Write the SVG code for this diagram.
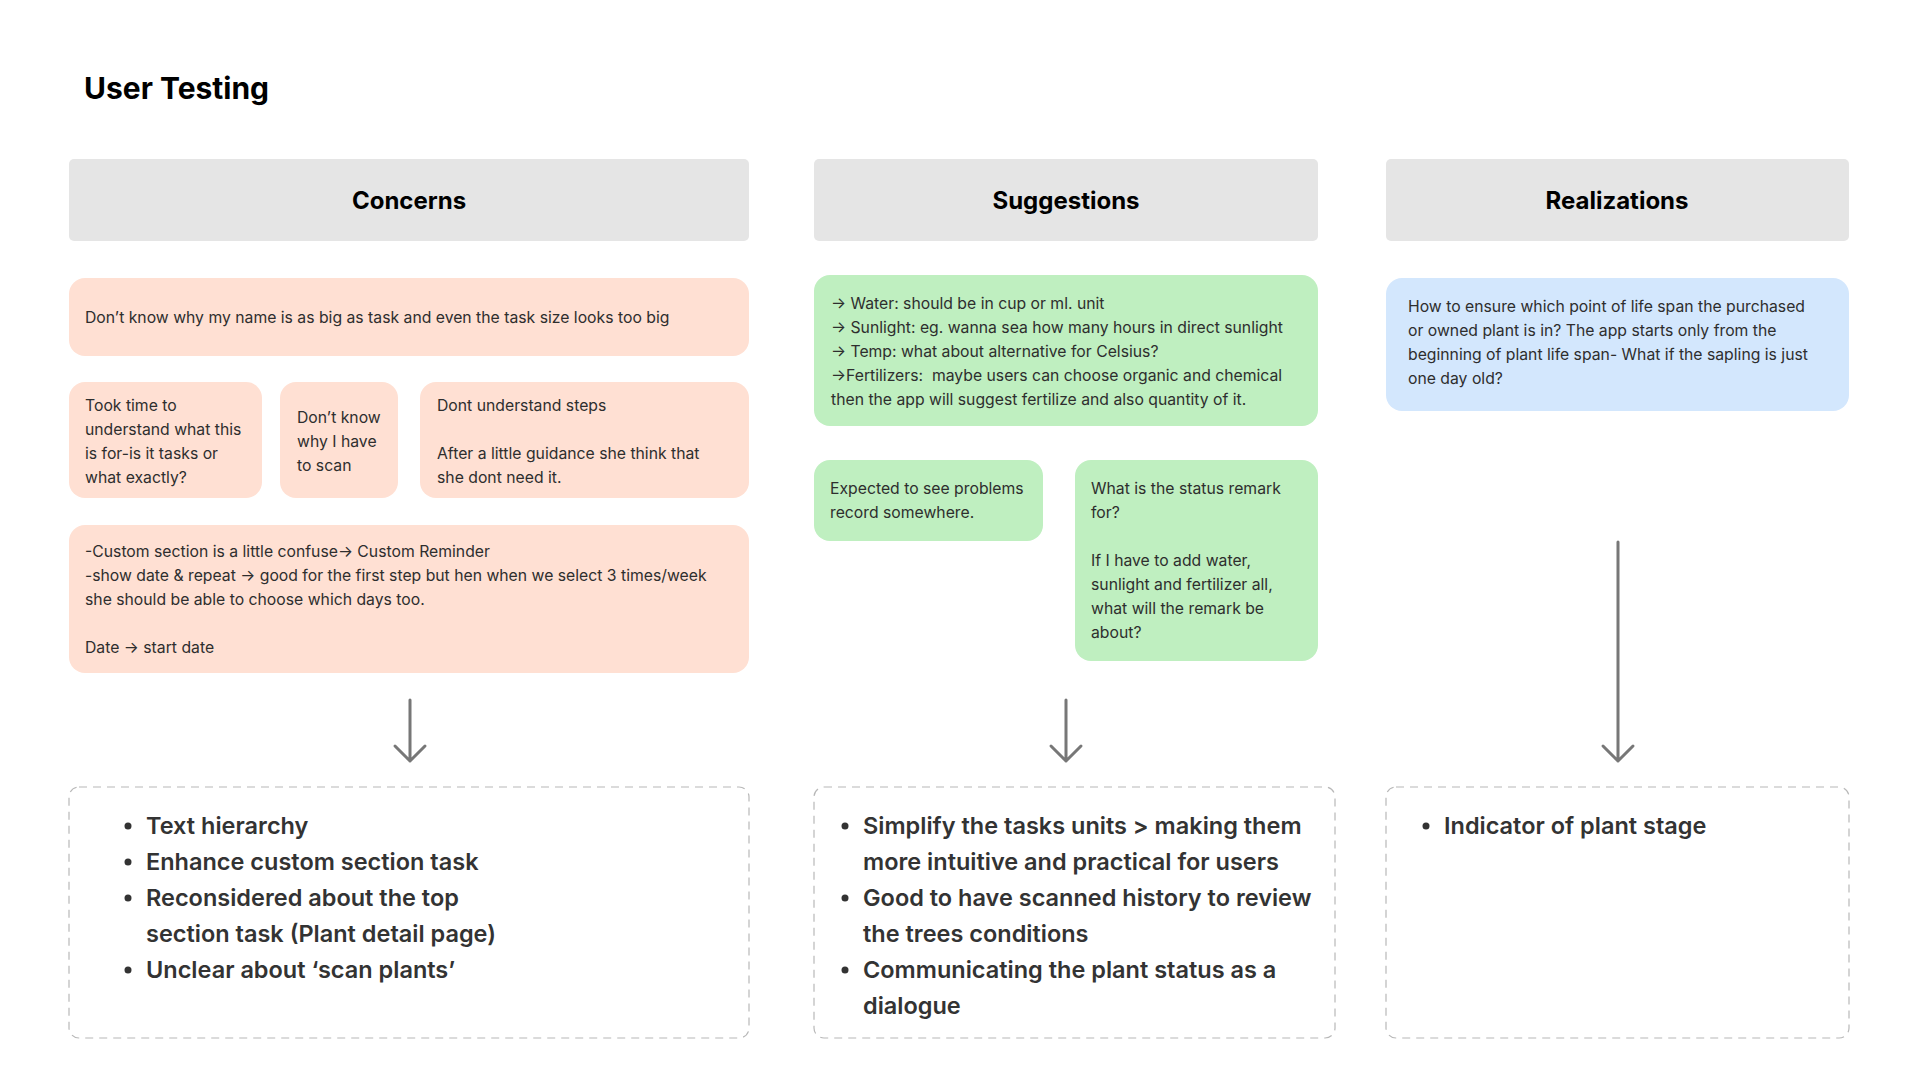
<svg xmlns="http://www.w3.org/2000/svg" width="1920" height="1080" viewBox="0 0 1920 1080">
<style>
text{font-family:Inter,"Noto Sans","Liberation Sans",sans-serif}
.title{font-size:30px;font-weight:700;fill:#000}
.hdr{fill:#e5e5e5}
.htxt{font-size:24px;font-weight:700;fill:#000;text-anchor:middle}
.peach{fill:#ffe0d3}
.green{fill:#bfefc0}
.blue{fill:#d3e7fd}
.note{font-size:15.75px;fill:#2e2e2e}
.dash{fill:none;stroke:#b8b8b8;stroke-width:1.2;stroke-dasharray:8 6}
.res{font-size:23.5px;font-weight:600;fill:#333}
.bul{fill:#333}
.conn{stroke:#777;stroke-width:3;fill:none;stroke-linecap:round;stroke-linejoin:round}
</style>
<rect width="1920" height="1080" fill="#fff"/>
<text class="title" x="84" y="99">User Testing</text>

<g id="concerns-header"><rect class="hdr" x="69" y="159" width="680" height="82" rx="5"/><text class="htxt" x="409" y="209">Concerns</text></g>
<g id="suggestions-header"><rect class="hdr" x="814" y="159" width="504" height="82" rx="5"/><text class="htxt" x="1066" y="209">Suggestions</text></g>
<g id="realizations-header"><rect class="hdr" x="1386" y="159" width="463" height="82" rx="5"/><text class="htxt" x="1617" y="209">Realizations</text></g>

<g id="concern-1"><rect class="peach" x="69" y="278" width="680" height="78" rx="16"/><text class="note" x="85" y="323">Don’t know why my name is as big as task and even the task size looks too big</text></g>
<g id="concern-2"><rect class="peach" x="69" y="382" width="193" height="116" rx="16"/><text class="note" x="85"><tspan x="85" y="411">Took time to</tspan><tspan x="85" y="435">understand what this</tspan><tspan x="85" y="459">is for-is it tasks or</tspan><tspan x="85" y="483">what exactly?</tspan></text></g>
<g id="concern-3"><rect class="peach" x="280" y="382" width="118" height="116" rx="16"/><text class="note"><tspan x="297" y="423">Don’t know</tspan><tspan x="297" y="447">why I have</tspan><tspan x="297" y="471">to scan</tspan></text></g>
<g id="concern-4"><rect class="peach" x="420" y="382" width="329" height="116" rx="16"/><text class="note"><tspan x="437" y="411">Dont understand steps</tspan><tspan x="437" y="459">After a little guidance she think that</tspan><tspan x="437" y="483">she dont need it.</tspan></text></g>
<g id="concern-5"><rect class="peach" x="69" y="525" width="680" height="148" rx="16"/><text class="note"><tspan x="85" y="557">-Custom section is a little confuse→ Custom Reminder</tspan><tspan x="85" y="581">-show date &amp; repeat → good for the first step but hen when we select 3 times/week</tspan><tspan x="85" y="605">she should be able to choose which days too.</tspan><tspan x="85" y="653">Date → start date</tspan></text></g>

<g id="suggestion-1"><rect class="green" x="814" y="275" width="504" height="151" rx="16"/><text class="note"><tspan x="831" y="309">→ Water: should be in cup or ml. unit</tspan><tspan x="831" y="333">→ Sunlight: eg. wanna sea how many hours in direct sunlight</tspan><tspan x="831" y="357">→ Temp: what about alternative for Celsius?</tspan><tspan x="831" y="381">→Fertilizers: &#160;maybe users can choose organic and chemical</tspan><tspan x="831" y="405">then the app will suggest fertilize and also quantity of it.</tspan></text></g>
<g id="suggestion-2"><rect class="green" x="814" y="460" width="229" height="81" rx="16"/><text class="note"><tspan x="830" y="494">Expected to see problems</tspan><tspan x="830" y="518">record somewhere.</tspan></text></g>
<g id="suggestion-3"><rect class="green" x="1075" y="460" width="243" height="201" rx="16"/><text class="note"><tspan x="1091" y="494">What is the status remark</tspan><tspan x="1091" y="518">for?</tspan><tspan x="1091" y="566">If I have to add water,</tspan><tspan x="1091" y="590">sunlight and fertilizer all,</tspan><tspan x="1091" y="614">what will the remark be</tspan><tspan x="1091" y="638">about?</tspan></text></g>

<g id="realization-1"><rect class="blue" x="1386" y="278" width="463" height="133" rx="16"/><text class="note"><tspan x="1408" y="312">How to ensure which point of life span the purchased</tspan><tspan x="1408" y="336">or owned plant is in? The app starts only from the</tspan><tspan x="1408" y="360">beginning of plant life span- What if the sapling is just</tspan><tspan x="1408" y="384">one day old?</tspan></text></g>

<g id="connectors">
<path class="conn" d="M410 700V761M395 746L410 761L425 746"/>
<path class="conn" d="M1066 700V761M1051 746L1066 761L1081 746"/>
<path class="conn" d="M1618 542V761M1603 746L1618 761L1633 746"/>
</g>

<g id="concerns-result"><rect class="dash" x="69" y="787" width="680" height="251" rx="10"/>
<circle class="bul" cx="128" cy="826" r="3.5"/><circle class="bul" cx="128" cy="862" r="3.5"/><circle class="bul" cx="128" cy="898" r="3.5"/><circle class="bul" cx="128" cy="970" r="3.5"/>
<text class="res"><tspan x="146" y="834">Text hierarchy</tspan><tspan x="146" y="870">Enhance custom section task</tspan><tspan x="146" y="906">Reconsidered about the top</tspan><tspan x="146" y="942">section task (Plant detail page)</tspan><tspan x="146" y="978">Unclear about ‘scan plants’</tspan></text></g>
<g id="suggestions-result"><rect class="dash" x="814" y="787" width="521" height="251" rx="10"/>
<circle class="bul" cx="845" cy="826" r="3.5"/><circle class="bul" cx="845" cy="898" r="3.5"/><circle class="bul" cx="845" cy="970" r="3.5"/>
<text class="res"><tspan x="863" y="834">Simplify the tasks units &gt; making them</tspan><tspan x="863" y="870">more intuitive and practical for users</tspan><tspan x="863" y="906">Good to have scanned history to review</tspan><tspan x="863" y="942">the trees conditions</tspan><tspan x="863" y="978">Communicating the plant status as a</tspan><tspan x="863" y="1014">dialogue</tspan></text></g>
<g id="realizations-result"><rect class="dash" x="1386" y="787" width="463" height="251" rx="10"/>
<circle class="bul" cx="1426" cy="826" r="3.5"/>
<text class="res" x="1444" y="834">Indicator of plant stage</text></g>
</svg>
